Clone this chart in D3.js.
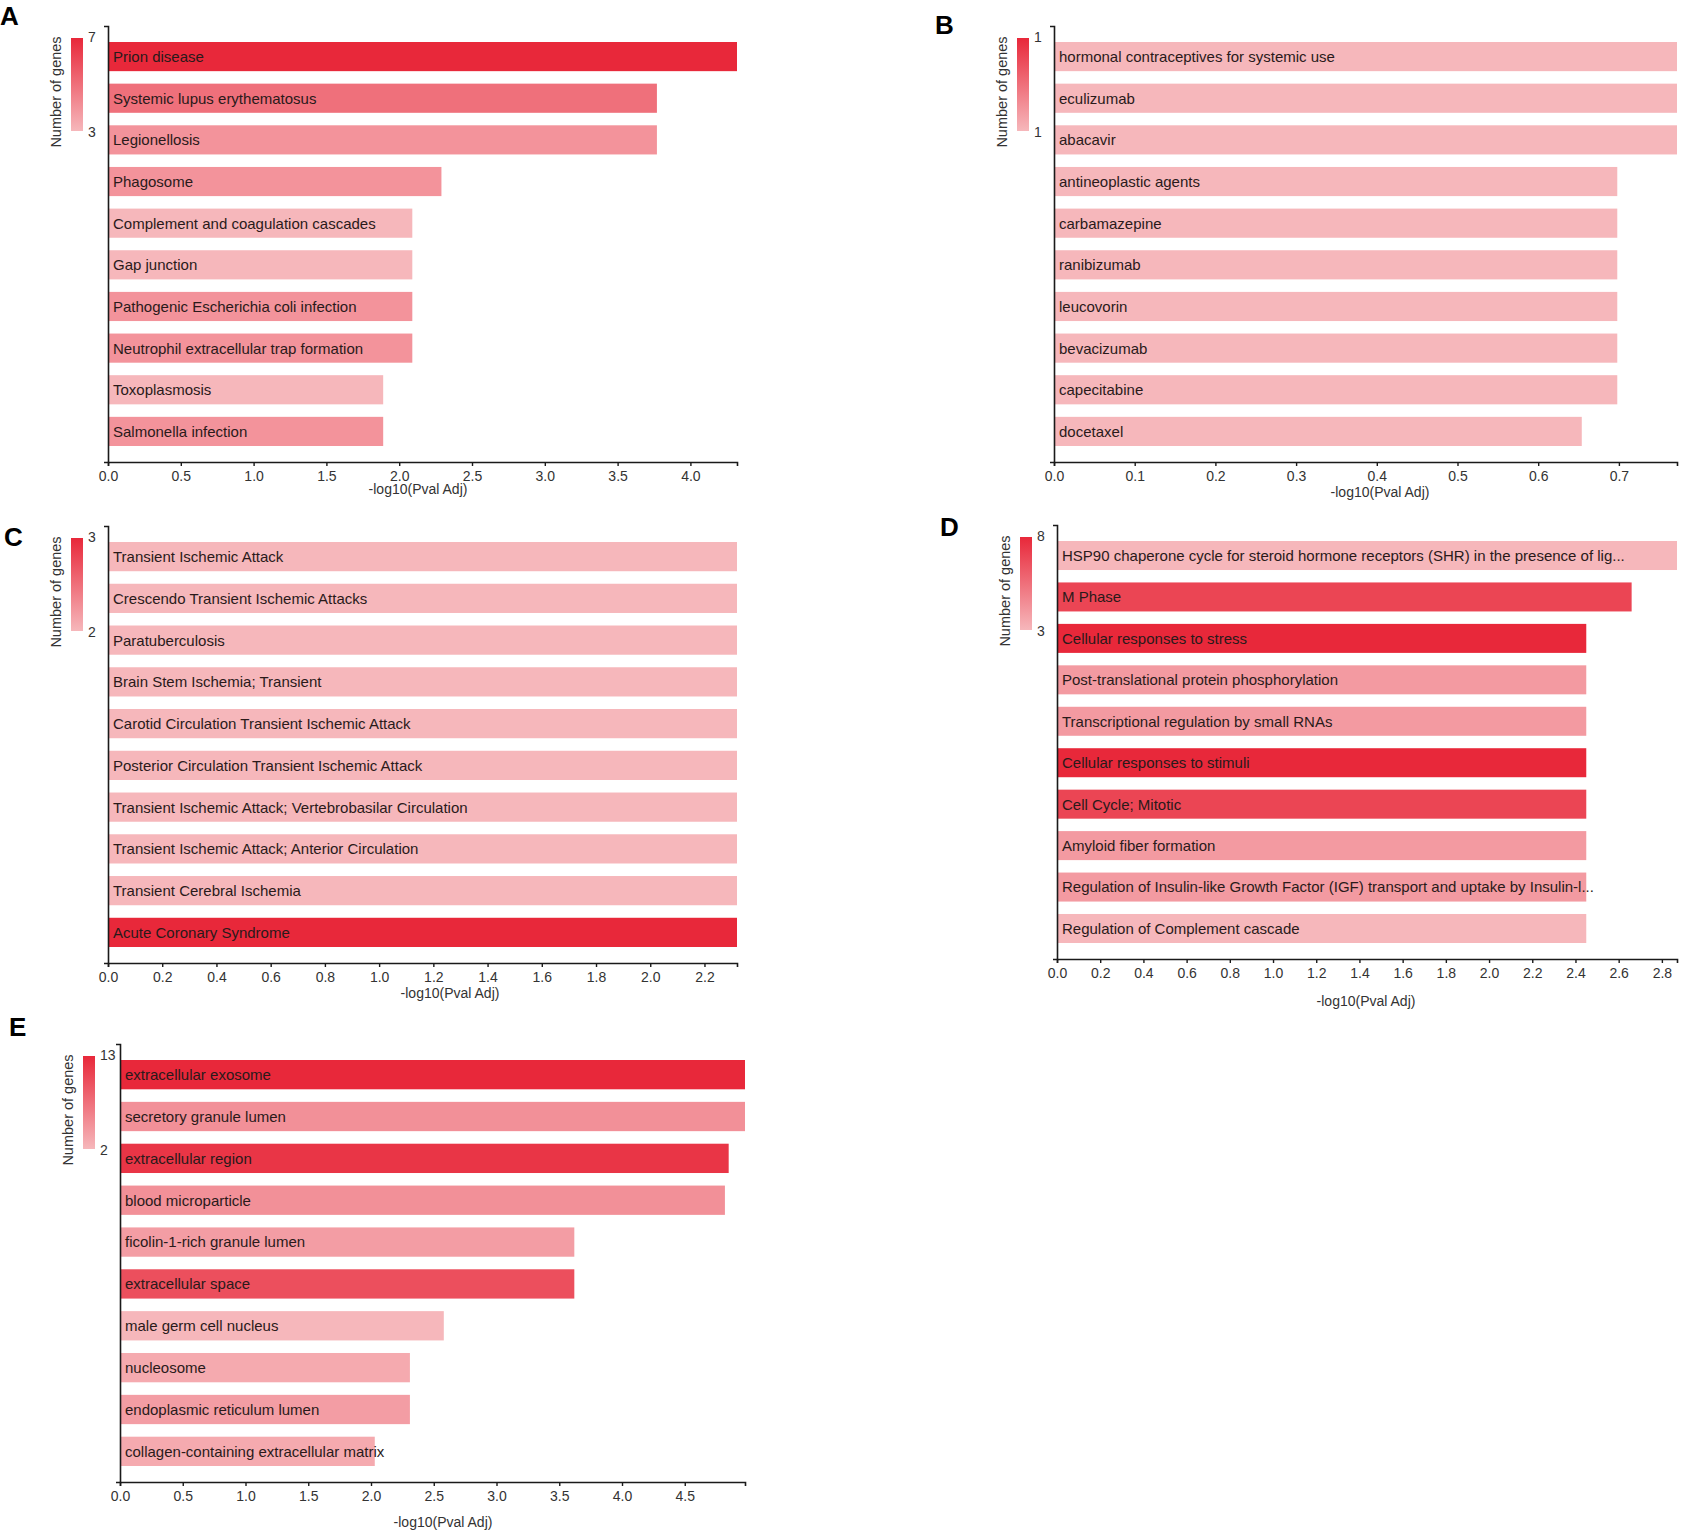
<!DOCTYPE html>
<html>
<head>
<meta charset="utf-8">
<script src="https://cdn.jsdelivr.net/npm/d3@7"></script>
<style>
    body { margin: 0; background: #fff; }
    text { font-family: "Liberation Sans", Arial, Helvetica, sans-serif; }
</style>
</head>
<body>
<div id="chart"></div>
<script>
// A - KEGG pathways
var termsA = ["Prion disease", "Systemic lupus erythematosus", "Legionellosis", "Phagosome",
    "Complement and coagulation cascades", "Gap junction", "Pathogenic Escherichia coli infection",
    "Neutrophil extracellular trap formation", "Toxoplasmosis", "Salmonella infection"];
var pvalA = [4.32, 3.77, 3.77, 2.29, 2.09, 2.09, 2.09, 2.09, 1.89, 1.89];
var genesA = [7, 5, 4, 4, 3, 3, 4, 4, 3, 4];
var legendA = [3, 7];

// B - drugs
var termsB = ["hormonal contraceptives for systemic use", "eculizumab", "abacavir", "antineoplastic agents",
    "carbamazepine", "ranibizumab", "leucovorin", "bevacizumab", "capecitabine", "docetaxel"];
var pvalB = [0.772, 0.772, 0.772, 0.698, 0.698, 0.698, 0.698, 0.698, 0.698, 0.654];
var genesB = [1, 1, 1, 1, 1, 1, 1, 1, 1, 1];
var legendB = [1, 1];

// C - diseases
var termsC = ["Transient Ischemic Attack", "Crescendo Transient Ischemic Attacks", "Paratuberculosis",
    "Brain Stem Ischemia; Transient", "Carotid Circulation Transient Ischemic Attack",
    "Posterior Circulation Transient Ischemic Attack", "Transient Ischemic Attack; Vertebrobasilar Circulation",
    "Transient Ischemic Attack; Anterior Circulation", "Transient Cerebral Ischemia", "Acute Coronary Syndrome"];
var pvalC = [2.32, 2.32, 2.32, 2.32, 2.32, 2.32, 2.32, 2.32, 2.32, 2.32];
var genesC = [2, 2, 2, 2, 2, 2, 2, 2, 2, 3];
var legendC = [2, 3];

// D - Reactome
var termsD = ["HSP90 chaperone cycle for steroid hormone receptors (SHR) in the presence of lig...",
    "M Phase", "Cellular responses to stress", "Post-translational protein phosphorylation",
    "Transcriptional regulation by small RNAs", "Cellular responses to stimuli", "Cell Cycle; Mitotic",
    "Amyloid fiber formation",
    "Regulation of Insulin-like Growth Factor (IGF) transport and uptake by Insulin-l...",
    "Regulation of Complement cascade"];
var pvalD = [2.87, 2.66, 2.45, 2.45, 2.45, 2.45, 2.45, 2.45, 2.45, 2.45];
var genesD = [3, 7, 8, 4, 4, 8, 7, 4, 4, 3];
var legendD = [3, 8];

// E - cellular component
var termsE = ["extracellular exosome", "secretory granule lumen", "extracellular region", "blood microparticle",
    "ficolin-1-rich granule lumen", "extracellular space", "male germ cell nucleus", "nucleosome",
    "endoplasmic reticulum lumen", "collagen-containing extracellular matrix"];
var pvalE = [4.98, 4.98, 4.85, 4.82, 3.62, 3.62, 2.58, 2.31, 2.31, 2.03];
var genesE = [13, 5, 12, 5, 4, 10, 2, 3, 4, 3];
var legendE = [2, 13];

var lowColor = "#f6b7bb";
var highColor = "#e8283a";
var axisColor = "#1a1a1a";
var textColor = "#2a1a1a";

var svg = d3.select("#chart")
    .append("svg")
    .attr("width", 1691)
    .attr("height", 1534)
    .style("background", "#fff");

var defs = svg.append("defs");
var grad = defs.append("linearGradient")
    .attr("id", "genesGrad")
    .attr("x1", 0).attr("y1", 0)
    .attr("x2", 0).attr("y2", 1);
grad.append("stop").attr("offset", "0%").attr("stop-color", highColor);
grad.append("stop").attr("offset", "100%").attr("stop-color", lowColor);

function drawPanel(p) {
    var g = svg.append("g");

    // panel letter
    g.append("text")
        .attr("x", p.lx)
        .attr("y", p.ly)
        .attr("font-size", "26px")
        .attr("font-weight", "bold")
        .attr("fill", "#000")
        .text(p.letter);

    var x = d3.scaleLinear()
        .domain([0, d3.max(p.pval)])
        .range([p.x0, p.x1]);

    var y = d3.scaleBand()
        .domain(p.terms)
        .range([p.top + 16, p.bottom - 16])
        .paddingInner(0.3)
        .paddingOuter(0);

    var interp = d3.interpolateRgb(lowColor, highColor);
    var lo = p.legend[0], hi = p.legend[1];
    var color = function (n) {
        var t = hi > lo ? (n - lo) / (hi - lo) : 0;
        return interp(t);
    };

    // bars
    g.selectAll("rect.bar")
        .data(p.terms)
        .enter()
        .append("rect")
        .attr("class", "bar")
        .attr("x", x(0))
        .attr("y", function (d) { return y(d); })
        .attr("width", function (d, i) { return x(p.pval[i]) - x(0); })
        .attr("height", y.bandwidth())
        .attr("fill", function (d, i) { return color(p.genes[i]); });

    // bar labels
    g.selectAll("text.term")
        .data(p.terms)
        .enter()
        .append("text")
        .attr("class", "term")
        .attr("x", x(0) + 5)
        .attr("y", function (d) { return y(d) + y.bandwidth() / 2; })
        .attr("dy", "0.36em")
        .attr("font-size", "15px")
        .attr("fill", textColor)
        .text(function (d) { return d; });

    // x axis
    var xAxis = g.append("g")
        .attr("transform", "translate(0," + p.bottom + ")")
        .call(d3.axisBottom(x)
            .tickSize(4)
            .tickSizeOuter(4)
            .tickPadding(5)
            .tickFormat(d3.format(".1f")));
    xAxis.select(".domain").attr("stroke", axisColor).attr("stroke-width", 1.6);
    xAxis.selectAll(".tick line").attr("stroke", axisColor).attr("stroke-width", 1.4);
    xAxis.selectAll(".tick text")
        .attr("font-size", "14px")
        .attr("fill", "#333")
        .attr("font-family", "\"Liberation Sans\", Arial, sans-serif");

    // y axis (plain line, no labels)
    var yLine = d3.scaleLinear().range([p.bottom, p.top]);
    var yAxis = g.append("g")
        .attr("transform", "translate(" + p.x0 + ",0)")
        .call(d3.axisLeft(yLine).tickValues([]).tickSizeOuter(4));
    yAxis.select(".domain").attr("stroke", axisColor).attr("stroke-width", 1.6);

    // x title
    g.append("text")
        .attr("x", p.titleX)
        .attr("y", p.bottom + p.titleDy)
        .attr("dy", "0.36em")
        .attr("text-anchor", "middle")
        .attr("font-size", "14px")
        .attr("fill", "#333")
        .text("-log10(Pval Adj)");

    // colour legend
    var gTop = p.top + 12, gBot = p.top + 105;
    g.append("rect")
        .attr("x", p.x0 - 37)
        .attr("y", gTop)
        .attr("width", 12)
        .attr("height", gBot - gTop)
        .attr("fill", "url(#genesGrad)");

    g.append("text")
        .attr("x", p.x0 - 20)
        .attr("y", gTop - 1)
        .attr("dy", "0.36em")
        .attr("font-size", "14px")
        .attr("fill", "#333")
        .text(hi);

    g.append("text")
        .attr("x", p.x0 - 20)
        .attr("y", gBot + 1)
        .attr("dy", "0.36em")
        .attr("font-size", "14px")
        .attr("fill", "#333")
        .text(lo);

    g.append("text")
        .attr("transform", "translate(" + (p.x0 - 52) + "," + (p.top + 66) + ") rotate(-90)")
        .attr("dy", "0.36em")
        .attr("text-anchor", "middle")
        .attr("font-size", "14.5px")
        .attr("fill", "#333")
        .text("Number of genes");
}

drawPanel({ letter: "A", lx: 0, ly: 25, x0: 108, x1: 737, top: 26, bottom: 462, titleX: 418, titleDy: 27,
    terms: termsA, pval: pvalA, genes: genesA, legend: legendA });
drawPanel({ letter: "B", lx: 935, ly: 34, x0: 1054, x1: 1677, top: 26, bottom: 462, titleX: 1380, titleDy: 30,
    terms: termsB, pval: pvalB, genes: genesB, legend: legendB });
drawPanel({ letter: "C", lx: 4, ly: 546, x0: 108, x1: 737, top: 526, bottom: 963, titleX: 450, titleDy: 30,
    terms: termsC, pval: pvalC, genes: genesC, legend: legendC });
drawPanel({ letter: "D", lx: 940, ly: 536, x0: 1057, x1: 1677, top: 525, bottom: 959, titleX: 1366, titleDy: 42,
    terms: termsD, pval: pvalD, genes: genesD, legend: legendD });
drawPanel({ letter: "E", lx: 9, ly: 1036, x0: 120, x1: 745, top: 1044, bottom: 1482, titleX: 443, titleDy: 40,
    terms: termsE, pval: pvalE, genes: genesE, legend: legendE });
</script>
</body>
</html>
